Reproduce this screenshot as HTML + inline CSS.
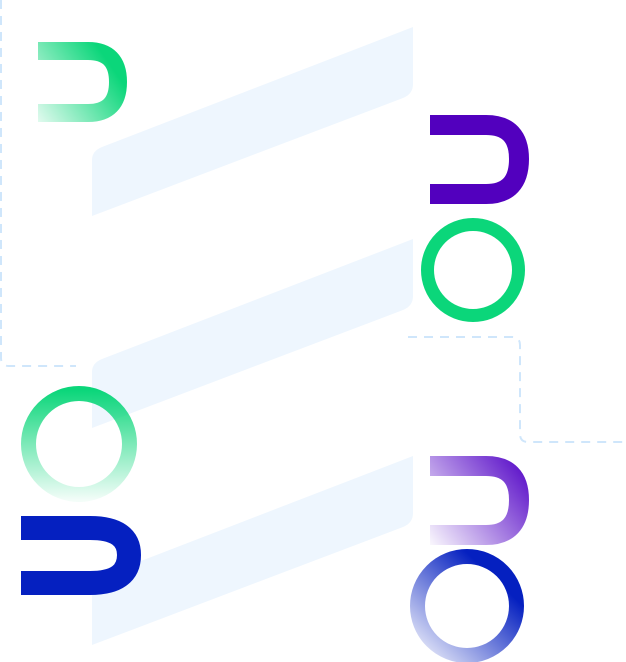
<!DOCTYPE html>
<html><head><meta charset="utf-8"><style>
html,body{margin:0;padding:0;background:#fff;width:626px;height:662px;overflow:hidden}
svg{display:block}
</style></head><body>
<svg width="626" height="662" viewBox="0 0 626 662" xmlns="http://www.w3.org/2000/svg">
<defs>
<linearGradient id="gU1" x1="38" y1="122" x2="127" y2="60" gradientUnits="userSpaceOnUse">
<stop offset="0" stop-color="#0bd67a" stop-opacity="0.12"/><stop offset="0.85" stop-color="#0bd67a"/></linearGradient>
<linearGradient id="gC1" x1="0" y1="390" x2="0" y2="500" gradientUnits="userSpaceOnUse">
<stop offset="0" stop-color="#0bd67a"/><stop offset="1" stop-color="#0bd67a" stop-opacity="0.05"/></linearGradient>
<linearGradient id="gU2" x1="430" y1="545" x2="529" y2="470" gradientUnits="userSpaceOnUse">
<stop offset="0" stop-color="#5a0fc8" stop-opacity="0.03"/><stop offset="1" stop-color="#5a0fc8"/></linearGradient>
<linearGradient id="gC2" x1="420" y1="660" x2="515" y2="560" gradientUnits="userSpaceOnUse">
<stop offset="0" stop-color="#0520c0" stop-opacity="0.05"/><stop offset="0.8" stop-color="#0520c0"/></linearGradient>
</defs>
<g fill="none" stroke="#cfe6fb" stroke-width="2" stroke-dasharray="9 7">
<path d="M1 0 V358 Q1 366 9 366 H76"/>
<path d="M408 337 H512 Q520 337 520 345 V434 Q520 442 528 442 H626"/>
</g>
<g fill="#eef6fe">
<path d="M92 216 V160 Q92 151 102 147 L413 27 V84 Q413 94 403 98 Z"/>
<path d="M92 428 V372 Q92 363 102 359 L413 239 V296 Q413 306 403 310 Z"/>
<path d="M92 645 V589 Q92 580 102 576 L413 456 V513 Q413 523 403 527 Z"/>
</g>
<g fill="none">
<path d="M38 51 H88 Q118 51 118 82 Q118 113 88 113 H38" stroke="url(#gU1)" stroke-width="18"/>
<path d="M430 125 H486 Q519 125 519 159 Q519 194 486 194 H430" stroke="#5200be" stroke-width="20"/>
<circle cx="473" cy="270" r="45.5" stroke="#0bd67a" stroke-width="13"/>
<circle cx="79" cy="444" r="50.5" stroke="url(#gC1)" stroke-width="15"/>
<path d="M21 528 H90 Q129 528 129 555 Q129 583 90 583 H21" stroke="#0520c0" stroke-width="24"/>
<path d="M430 466 H486 Q519 466 519 500 Q519 535 486 535 H430" stroke="url(#gU2)" stroke-width="20"/>
<circle cx="467" cy="606" r="49.5" stroke="url(#gC2)" stroke-width="15"/>
</g>
</svg>
</body></html>
